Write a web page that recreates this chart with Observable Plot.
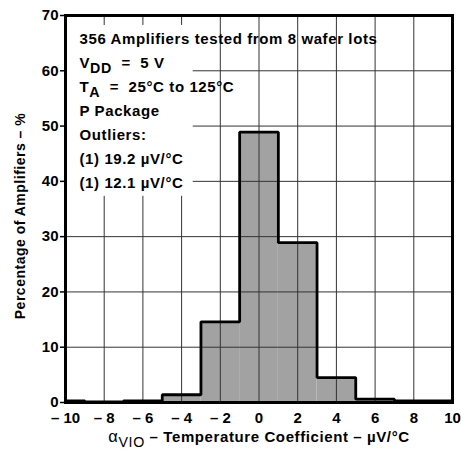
<!DOCTYPE html>
<html>
<head>
<meta charset="utf-8">
<script src="https://cdn.jsdelivr.net/npm/d3@7"></script>
<script src="https://cdn.jsdelivr.net/npm/@observablehq/plot@0.6"></script>
<style>
  html, body { margin: 0; padding: 0; background: white; }
  .wide text { letter-spacing: 0.6px; }
  .ytitle text { letter-spacing: 0.5px; }
</style>
</head>
<body>
<div id="chart"></div>
<script>
// Bin centers (µV/°C) and percentage of amplifiers in each 2 µV/°C bin
const binCenters = [-10, -8, -6, -4, -2, 0, 2, 4, 6, 8, 10];
const percents   = [0.3, 0.1, 0.3, 1.4, 14.6, 48.9, 28.9, 4.5, 0.6, 0.3, 0.3];
const binWidth = 2;

const xTicks = [-10, -8, -6, -4, -2, 0, 2, 4, 6, 8, 10];
const xTickLabels = ["– 10", "– 8", "– 6", "– 4", "– 2", "0", "2", "4", "6", "8", "10"];
const yTicks = [0, 10, 20, 30, 40, 50, 60, 70];

const annotationLines = [
  "356 Amplifiers tested from 8 wafer lots",
  "V_{DD}  =  5 V",
  "T_{A}  =  25°C to 125°C",
  "P Package",
  "Outliers:",
  "(1) 19.2 µV/°C",
  "(1) 12.1 µV/°C"
];
const xTitle = "α_{VIO} – Temperature Coefficient – µV/°C";
const yTitle = "Percentage of Amplifiers – %";

// Build bins (clipped to the axis range) and the histogram outline
const xMin = xTicks[0], xMax = xTicks[xTicks.length - 1];
const bins = binCenters.map((c, i) => ({
  x1: Math.max(c - binWidth / 2, xMin),
  x2: Math.min(c + binWidth / 2, xMax),
  y: percents[i]
}));
const outline = [{x: xMin, y: 0}];
bins.forEach(b => { outline.push({x: b.x1, y: b.y}); outline.push({x: b.x2, y: b.y}); });
outline.push({x: xMax, y: 0});

const labelOf = new Map(xTicks.map((t, i) => [t, xTickLabels[i]]));
const FONT = "'Liberation Sans', Arial, Helvetica, sans-serif";

const marks = [
  Plot.rectY(bins, {x1: "x1", x2: "x2", y: "y", fill: "#a2a2a2"}),
  Plot.ruleX(xTicks.slice(1, -1), {stroke: "#333", strokeWidth: 1}),
  Plot.ruleY(yTicks.slice(1, -1), {stroke: "#333", strokeWidth: 1}),
  // white background behind the annotation block
  Plot.rect([0], {x1: () => -10, x2: () => -3.4, y1: () => 37.3, y2: () => 68.2, fill: "white"}),
  Plot.line(outline, {x: "x", y: "y", stroke: "black", strokeWidth: 2.8, strokeLinejoin: "miter"}),
  Plot.frame({stroke: "black", strokeWidth: 3}),
  Plot.axisX(xTicks, {label: null, tickSize: 0, tickPadding: 10, tickFormat: d => labelOf.get(d), fontSize: 15, fontWeight: "bold"}),
  Plot.axisY(yTicks, {label: null, tickSize: 5, tickPadding: 2, fontSize: 15, fontWeight: "bold", strokeWidth: 1.5}),
  Plot.text([yTitle], {frameAnchor: "left", textAnchor: "middle", lineAnchor: "middle", rotate: -90, dx: -45, dy: 7,
    fontSize: 14, fontWeight: "bold", text: d => d, className: "ytitle"}),
  Plot.text([xTitle], {frameAnchor: "bottom", lineAnchor: "middle", dy: 35, fontSize: 15, fontWeight: "bold", text: d => d, className: "wide"}),
  ...annotationLines.map((line, i) =>
    Plot.text([line], {frameAnchor: "top-left", textAnchor: "start", lineAnchor: "middle", dx: 14, dy: 24 + 24 * i,
      fontSize: 15, fontWeight: "bold", text: d => d, className: "wide"}))
];

const chart = Plot.plot({
  width: 461,
  height: 450,
  marginLeft: 65,
  marginRight: 9,
  marginTop: 15,
  marginBottom: 48,
  style: {fontFamily: FONT, fontSize: "15px", color: "black", background: "white"},
  x: {domain: [xMin, xMax], axis: null},
  y: {domain: [0, 70], axis: null},
  marks
});

// Render subscripts written as _{...}; α and its subscript in normal weight
d3.select(chart).selectAll("text").each(function () {
  const el = this;
  const txt = el.textContent;
  if (!/_\{|α/.test(txt)) return;
  const parts = txt.split(/(_\{[^}]*\}|α)/).filter(s => s.length);
  while (el.firstChild) el.removeChild(el.firstChild);
  let prevAlpha = false;
  let shifted = false;
  parts.forEach(p => {
    const t = document.createElementNS("http://www.w3.org/2000/svg", "tspan");
    if (p.startsWith("_{")) {
      t.textContent = p.slice(2, -1);
      t.setAttribute("dy", "0.33em");
      t.setAttribute("font-size", "0.95em");
      if (prevAlpha) t.setAttribute("font-weight", "normal");
      shifted = true;
      prevAlpha = false;
    } else {
      t.textContent = p;
      if (shifted) { t.setAttribute("dy", "-0.33em"); shifted = false; }
      if (p === "α") { t.setAttribute("font-weight", "normal"); t.setAttribute("font-size", "1.1em"); prevAlpha = true; }
      else prevAlpha = false;
    }
    el.appendChild(t);
  });
});

document.getElementById("chart").appendChild(chart);
</script>
</body>
</html>
